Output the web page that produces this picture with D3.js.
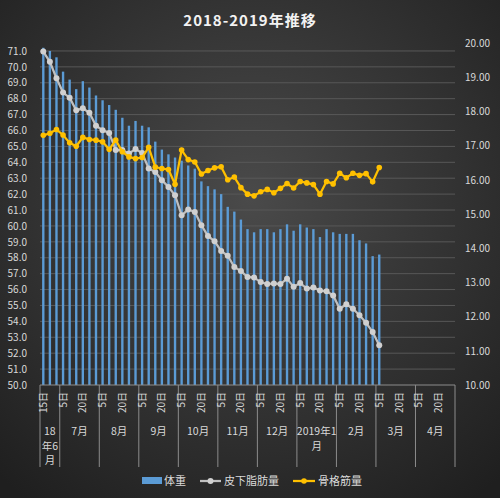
<!DOCTYPE html>
<html>
<head>
<meta charset="utf-8">
<script src="https://cdn.jsdelivr.net/npm/d3@7"></script>
<style>
    body { margin: 0; background: #262626; }
    svg text { font-family: "Noto Sans CJK JP", "Noto Sans", sans-serif; }
</style>
</head>
<body>
<div id="chart"></div>
<script>

/*
Data - one point every 5 days, from 2018-06-15 to 2019-03-05
 */

var monthLabels = ["18年6月", "7月", "8月", "9月", "10月", "11月", "12月", "2019年1月", "2月", "3月", "4月"];
var firstMonthDays = [15, 20, 25];
var monthDays = [5, 10, 15, 20, 25, 30];

// 体重 (kg, left axis)
var weight = [71.2, 71.0, 70.6, 69.7, 69.2, 68.6, 69.1, 68.7, 68.2, 67.9,
    67.6, 67.3, 66.8, 66.3, 66.6, 66.3, 66.2, 65.3, 64.8, 64.5,
    64.3, 64.1, 63.8, 63.6, 62.8, 62.5, 62.3, 62.0, 61.2, 60.9,
    60.4, 59.8, 59.6, 59.8, 59.8, 59.6, 59.8, 60.1, 59.7, 60.1,
    59.9, 59.8, 59.3, 59.8, 59.6, 59.5, 59.5, 59.5, 59.1, 58.9,
    58.1, 58.2];

// 皮下脂肪量 (right axis)
var subFat = [19.75, 19.45, 18.97, 18.55, 18.40, 18.03, 18.09, 17.96, 17.58, 17.45,
    17.37, 16.87, 16.87, 16.77, 16.90, 16.78, 16.33, 16.23, 15.99, 15.79,
    15.55, 14.96, 15.13, 15.06, 14.67, 14.36, 14.20, 13.92, 13.78, 13.45,
    13.33, 13.16, 13.14, 13.01, 12.95, 12.97, 12.95, 13.11, 12.87, 12.98,
    12.82, 12.85, 12.76, 12.74, 12.62, 12.23, 12.36, 12.23, 12.04, 11.82,
    11.55, 11.16];

// 骨格筋量 (right axis)
var muscle = [17.30, 17.36, 17.47, 17.31, 17.08, 16.98, 17.24, 17.18, 17.16, 17.11,
    16.89, 17.16, 16.82, 16.67, 16.62, 16.65, 16.95, 16.37, 16.33, 16.30,
    15.87, 16.87, 16.59, 16.52, 16.17, 16.27, 16.35, 16.38, 16.00, 16.08,
    15.77, 15.58, 15.53, 15.65, 15.72, 15.62, 15.75, 15.89, 15.76, 15.95,
    15.91, 15.86, 15.58, 15.95, 15.88, 16.19, 16.06, 16.19, 16.13, 16.18,
    15.94, 16.36];

var leftTicks = d3.range(50, 71.01, 1);
var rightTicks = d3.range(10, 20.01, 1);

var legendNames = ["体重", "皮下脂肪量", "骨格筋量"];

//build the category list: month index + day
var cats = [];
monthLabels.forEach(function(m, mi) {
    var days = mi === 0 ? firstMonthDays : monthDays;
    days.forEach(function(d) {
        cats.push({ key: mi + "-" + d, month: mi, day: d });
    });
});

/*
Chart
 */

var width = 500, height = 498;
var plotLeft = 40, plotRight = 455, plotTop = 43, plotBottom = 385;

var svg = d3.select("#chart")
    .append("svg")
    .attr("width", width)
    .attr("height", height);

var defs = svg.append("defs");
var bg = defs.append("radialGradient")
    .attr("id", "bg")
    .attr("cx", "50%").attr("cy", "40%").attr("r", "75%");
bg.append("stop").attr("offset", "0%").attr("stop-color", "#4a4a4a");
bg.append("stop").attr("offset", "100%").attr("stop-color", "#1f1f1f");

svg.append("rect")
    .attr("width", width)
    .attr("height", height)
    .style("fill", "url(#bg)");

var x = d3.scaleBand()
    .domain(cats.map(function(c) { return c.key; }))
    .range([plotLeft, plotRight])
    .padding(0);

var yL = d3.scaleLinear().domain([50, 71.5]).range([plotBottom, plotTop]);
var yR = d3.scaleLinear().domain([10, 20]).range([plotBottom, plotTop]);

function cx(i) { return x(cats[i].key) + x.bandwidth() / 2; }

//gridlines
svg.append("g")
    .selectAll("line")
    .data(leftTicks.slice(1))
    .enter()
    .append("line")
    .attr("x1", plotLeft)
    .attr("x2", plotRight)
    .attr("y1", function(d) { return yL(d); })
    .attr("y2", function(d) { return yL(d); })
    .style("stroke", "#585858")
    .style("stroke-width", 1);

//left axis
var axL = svg.append("g")
    .attr("transform", "translate(" + plotLeft + ",0)")
    .call(d3.axisLeft(yL).tickValues(leftTicks).tickFormat(d3.format(".1f")).tickSize(0).tickPadding(13));
axL.select(".domain").remove();
axL.selectAll("text").style("fill", "#d9d9d9").style("font-size", "10px");

//right axis
var axR = svg.append("g")
    .attr("transform", "translate(" + plotRight + ",0)")
    .call(d3.axisRight(yR).tickValues(rightTicks).tickFormat(d3.format(".2f")).tickSize(0).tickPadding(10));
axR.select(".domain").remove();
axR.selectAll("text").style("fill", "#d9d9d9").style("font-size", "10px");

//bars
var barW = x.bandwidth() * 0.36;
svg.append("g")
    .selectAll("rect")
    .data(weight)
    .enter()
    .append("rect")
    .attr("x", function(d, i) { return cx(i) - barW / 2; })
    .attr("width", barW)
    .attr("y", function(d) { return yL(d); })
    .attr("height", function(d) { return yL(50) - yL(d); })
    .style("fill", "#5b9bd5");

//x axis line + month separators
svg.append("line")
    .attr("x1", plotLeft).attr("x2", plotRight)
    .attr("y1", plotBottom).attr("y2", plotBottom)
    .style("stroke", "#8c8c8c");

var bounds = [];
cats.forEach(function(c, i) {
    if (i === 0 || cats[i - 1].month !== c.month) bounds.push(x(c.key));
});
bounds.push(plotRight);

svg.append("g")
    .selectAll("line")
    .data(bounds)
    .enter()
    .append("line")
    .attr("x1", function(d) { return d; })
    .attr("x2", function(d) { return d; })
    .attr("y1", plotBottom)
    .attr("y2", 467)
    .style("stroke", "#8c8c8c");

//day labels (every third category)
svg.append("g")
    .selectAll("text")
    .data(cats.filter(function(c, i) { return i % 3 === 0; }))
    .enter()
    .append("text")
    .attr("transform", function(c) {
        return "translate(" + (x(c.key) + x.bandwidth() / 2) + ",392) rotate(-90)";
    })
    .attr("text-anchor", "end")
    .attr("dy", "0.35em")
    .style("fill", "#d9d9d9")
    .style("font-size", "10px")
    .text(function(c) { return c.day + "日"; });

//month labels, wrapped like the original
var monthLines = monthLabels.map(function(m, mi) {
    if (mi === 0) return ["18", "年6", "月"];
    if (m.length > 4) return ["2019年1", "月"];
    return [m];
});

var mLab = svg.append("g")
    .selectAll("text")
    .data(monthLabels)
    .enter()
    .append("text")
    .attr("text-anchor", "middle")
    .style("fill", "#d9d9d9")
    .style("font-size", "10.5px");

mLab.each(function(m, mi) {
    var mid = (bounds[mi] + bounds[mi + 1]) / 2;
    d3.select(this).selectAll("tspan")
        .data(monthLines[mi])
        .enter()
        .append("tspan")
        .attr("x", mid)
        .attr("y", function(d, k) { return 435 + k * 14.5; })
        .text(function(d) { return d; });
});

//lines
var valLine = d3.line()
    .x(function(d, i) { return cx(i); })
    .y(function(d) { return yR(d); });

svg.append("path")
    .datum(subFat)
    .attr("d", valLine)
    .style("fill", "none")
    .style("stroke", "#bfbfbf")
    .style("stroke-width", 2.25);

svg.append("g")
    .selectAll("circle")
    .data(subFat)
    .enter()
    .append("circle")
    .attr("cx", function(d, i) { return cx(i); })
    .attr("cy", function(d) { return yR(d); })
    .attr("r", 3)
    .style("fill", "#d0d0d0");

svg.append("path")
    .datum(muscle)
    .attr("d", valLine)
    .style("fill", "none")
    .style("stroke", "#ffc000")
    .style("stroke-width", 2.25);

svg.append("g")
    .selectAll("circle")
    .data(muscle)
    .enter()
    .append("circle")
    .attr("cx", function(d, i) { return cx(i); })
    .attr("cy", function(d) { return yR(d); })
    .attr("r", 2.8)
    .style("fill", "#ffc000");

//title
svg.append("text")
    .attr("x", 250)
    .attr("y", 26)
    .attr("text-anchor", "middle")
    .style("fill", "#f2f2f2")
    .style("font-size", "15px")
    .style("font-weight", "bold")
    .style("letter-spacing", "1px")
    .text("2018-2019年推移");

//legend
var lg = svg.append("g").style("font-size", "11px");

lg.append("rect")
    .attr("x", 142).attr("y", 477)
    .attr("width", 20).attr("height", 7)
    .style("fill", "#5b9bd5");
lg.append("text").attr("x", 164).attr("y", 485).style("fill", "#d9d9d9").text(legendNames[0]);

lg.append("line")
    .attr("x1", 200).attr("x2", 221).attr("y1", 481).attr("y2", 481)
    .style("stroke", "#bfbfbf").style("stroke-width", 2.25);
lg.append("circle").attr("cx", 210.5).attr("cy", 481).attr("r", 3).style("fill", "#d0d0d0");
lg.append("text").attr("x", 224).attr("y", 485).style("fill", "#d9d9d9").text(legendNames[1]);

lg.append("line")
    .attr("x1", 293).attr("x2", 315).attr("y1", 481).attr("y2", 481)
    .style("stroke", "#ffc000").style("stroke-width", 2.25);
lg.append("circle").attr("cx", 304).attr("cy", 481).attr("r", 2.8).style("fill", "#ffc000");
lg.append("text").attr("x", 318).attr("y", 485).style("fill", "#d9d9d9").text(legendNames[2]);

</script>
</body>
</html>
